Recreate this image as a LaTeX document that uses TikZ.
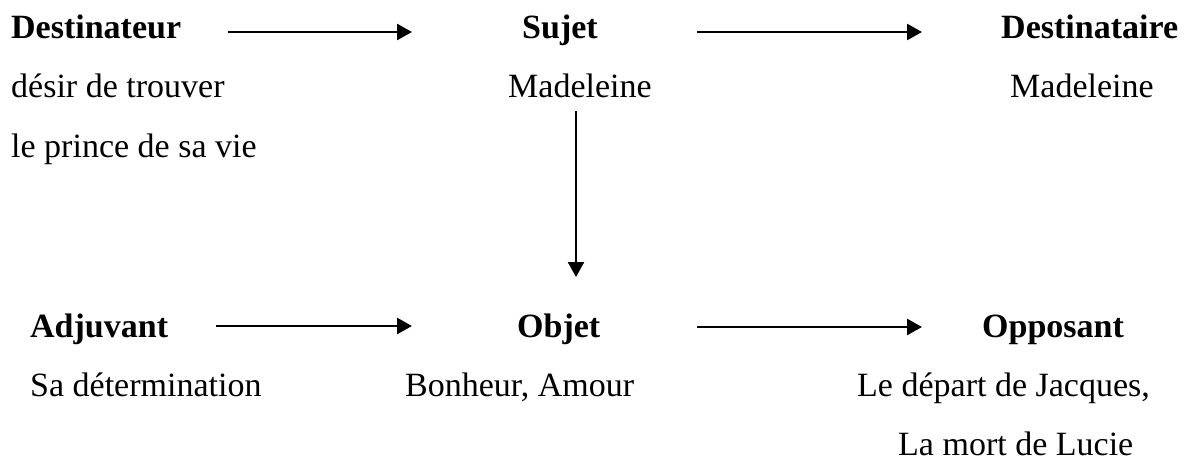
\documentclass[tikz,border=0pt]{standalone}
\usepackage{fontspec}
\setmainfont{Liberation Serif}
\usetikzlibrary{arrows.meta}
\begin{document}
\begin{tikzpicture}[x=1pt,y=-1pt,
  lbl/.style={inner sep=0pt,anchor=base west,font=\fontsize{34}{40}\selectfont},
  ttl/.style={inner sep=0pt,anchor=base west,font=\fontsize{34}{40}\selectfont\bfseries},
  arr/.style={line width=2.7pt,-{Triangle[length=15pt,width=16pt]}}]
\useasboundingbox (0,0) rectangle (1184,460);
% top row
\node[ttl] (destin) at (11,39) {Destinateur};
\node[ttl] (sujet) at (522,39) {Sujet};
\node[ttl] (destinataire) at (1001,39) {Destinataire};
\node[lbl] (d1) at (11,98) {désir de trouver};
\node[lbl] (d2) at (11,157) {le prince de sa vie};
\node[lbl] (mad1) at (508,98) {Madeleine};
\node[lbl] (mad2) at (1010,98) {Madeleine};
% bottom row
\node[ttl] (adj) at (30,337) {Adjuvant};
\node[ttl] (objet) at (517,337) {Objet};
\node[ttl] (opp) at (982,337) {Opposant};
\node[lbl] (sa) at (30,396) {Sa détermination};
\node[lbl] (bon) at (405,396) {Bonheur, Amour};
\node[lbl] (dep) at (857,396) {Le départ de Jacques,};
\node[lbl] (mort) at (898,455) {La mort de Lucie};
% connector end points
\coordinate (a1s) at (228,32);
\coordinate (a1e) at (412,32);
\coordinate (a2s) at (697,32);
\coordinate (a2e) at (922,32);
\coordinate (a3s) at (576,111);
\coordinate (a3e) at (576,277);
\coordinate (a4s) at (216,326);
\coordinate (a4e) at (412,326);
\coordinate (a5s) at (697,327);
\coordinate (a5e) at (922,327);
\draw[arr] (a1s) -- (a1e);
\draw[arr] (a2s) -- (a2e);
\draw[arr] (a3s) -- (a3e);
\draw[arr] (a4s) -- (a4e);
\draw[arr] (a5s) -- (a5e);
\end{tikzpicture}
\end{document}
